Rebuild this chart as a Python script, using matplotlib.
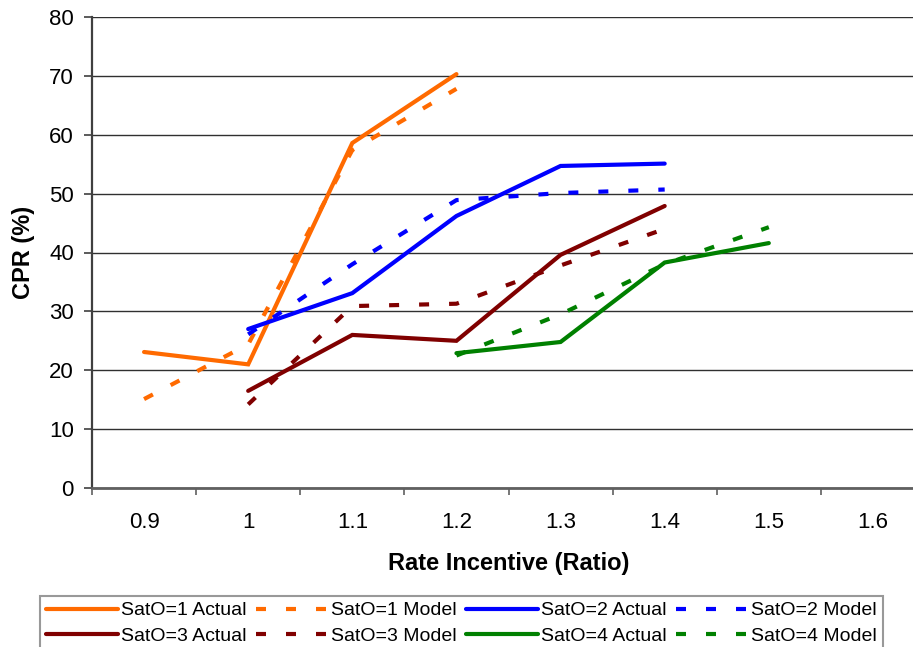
import matplotlib
matplotlib.use("Agg")
import matplotlib.pyplot as plt
import numpy as np

nan = np.nan
categories = ["0.9", "1", "1.1", "1.2", "1.3", "1.4", "1.5", "1.6"]

sat1_actual = [23.1, 21.0, 58.6, 70.3, nan, nan, nan, nan]
sat1_model  = [15.1, 24.4, 57.4, 67.8, nan, nan, nan, nan]
sat2_actual = [nan, 27.0, 33.1, 46.2, 54.7, 55.1, nan, nan]
sat2_model  = [nan, 26.1, 38.0, 48.9, 50.1, 50.7, nan, nan]
sat3_actual = [nan, 16.5, 26.0, 25.0, 39.6, 47.9, nan, nan]
sat3_model  = [nan, 14.2, 30.9, 31.3, 37.8, 44.0, nan, nan]
sat4_actual = [nan, nan, nan, 22.9, 24.8, 38.3, 41.6, nan]
sat4_model  = [nan, nan, nan, 22.5, 29.5, 38.0, 44.3, nan]

yticks = [0, 10, 20, 30, 40, 50, 60, 70, 80]

plt.rcParams['font.family'] = ['Liberation Sans', 'DejaVu Sans']

W, H = 913, 647
fig = plt.figure(figsize=(W / 100, H / 100), dpi=100)
ax = fig.add_axes([92 / W, 1 - 488 / H, (925 - 92) / W, (488 - 17) / H])

x = np.arange(len(categories))
lw = 3.0
dash = (2.4, 4.8)
series = [
    ("SatO=1 Actual", sat1_actual, "#FF6A00", "-"),
    ("SatO=1 Model", sat1_model, "#FF6A00", "--"),
    ("SatO=2 Actual", sat2_actual, "#0000FF", "-"),
    ("SatO=2 Model", sat2_model, "#0000FF", "--"),
    ("SatO=3 Actual", sat3_actual, "#800000", "-"),
    ("SatO=3 Model", sat3_model, "#800000", "--"),
    ("SatO=4 Actual", sat4_actual, "#008000", "-"),
    ("SatO=4 Model", sat4_model, "#008000", "--"),
]
handles = {}
for label, vals, color, ls in series:
    if ls == "--":
        (h,) = ax.plot(x, vals, color=color, lw=lw, label=label, dashes=dash,
                       solid_capstyle='round', zorder=3)
    else:
        (h,) = ax.plot(x, vals, color=color, lw=lw, label=label,
                       solid_capstyle='round', solid_joinstyle='miter', zorder=3)
    handles[label] = h

ax.set_xlim(-0.5, len(categories) - 0.5)
ax.set_ylim(0, 80)
ax.set_yticks(yticks)
ax.set_yticklabels([str(v) for v in yticks], fontsize=16)

ax.set_xticks(np.arange(len(categories) + 1) - 0.5)
ax.set_xticklabels([])
ax.set_xticks(x, minor=True)
ax.set_xticklabels(categories, minor=True, fontsize=16)
ax.tick_params(axis='x', which='major', length=5, width=1.2, color='#606060', direction='out')
ax.tick_params(axis='x', which='minor', length=0, pad=17)
ax.tick_params(axis='y', length=6, width=1.2, color='#404040', direction='out', pad=7)

ax.yaxis.grid(True, color='#303030', lw=1.0)
ax.set_axisbelow(True)
for s in ['top', 'right']:
    ax.spines[s].set_visible(False)
ax.spines['left'].set_color('#404040')
ax.spines['left'].set_linewidth(1.6)
ax.spines['bottom'].set_color('#606060')
ax.spines['bottom'].set_linewidth(2.0)

ax.set_xlabel("Rate Incentive (Ratio)", fontsize=17, fontweight='bold', labelpad=14)
ax.set_ylabel("CPR (%)", fontsize=17, fontweight='bold', labelpad=10)

order = ["SatO=1 Actual", "SatO=3 Actual", "SatO=1 Model", "SatO=3 Model",
         "SatO=2 Actual", "SatO=4 Actual", "SatO=2 Model", "SatO=4 Model"]
leg = fig.legend([handles[k] for k in order], order, loc='upper left',
                 bbox_to_anchor=(40 / W, 1 - 596 / H), ncol=4, fontsize=14,
                 handlelength=3.7, handletextpad=0.15, columnspacing=0.5,
                 labelspacing=0.4, borderpad=0.3, borderaxespad=0,
                 fancybox=False, frameon=True)
leg.get_frame().set_edgecolor('#808080')
leg.get_frame().set_linewidth(1.5)

fig.savefig("out.png", dpi=100)
